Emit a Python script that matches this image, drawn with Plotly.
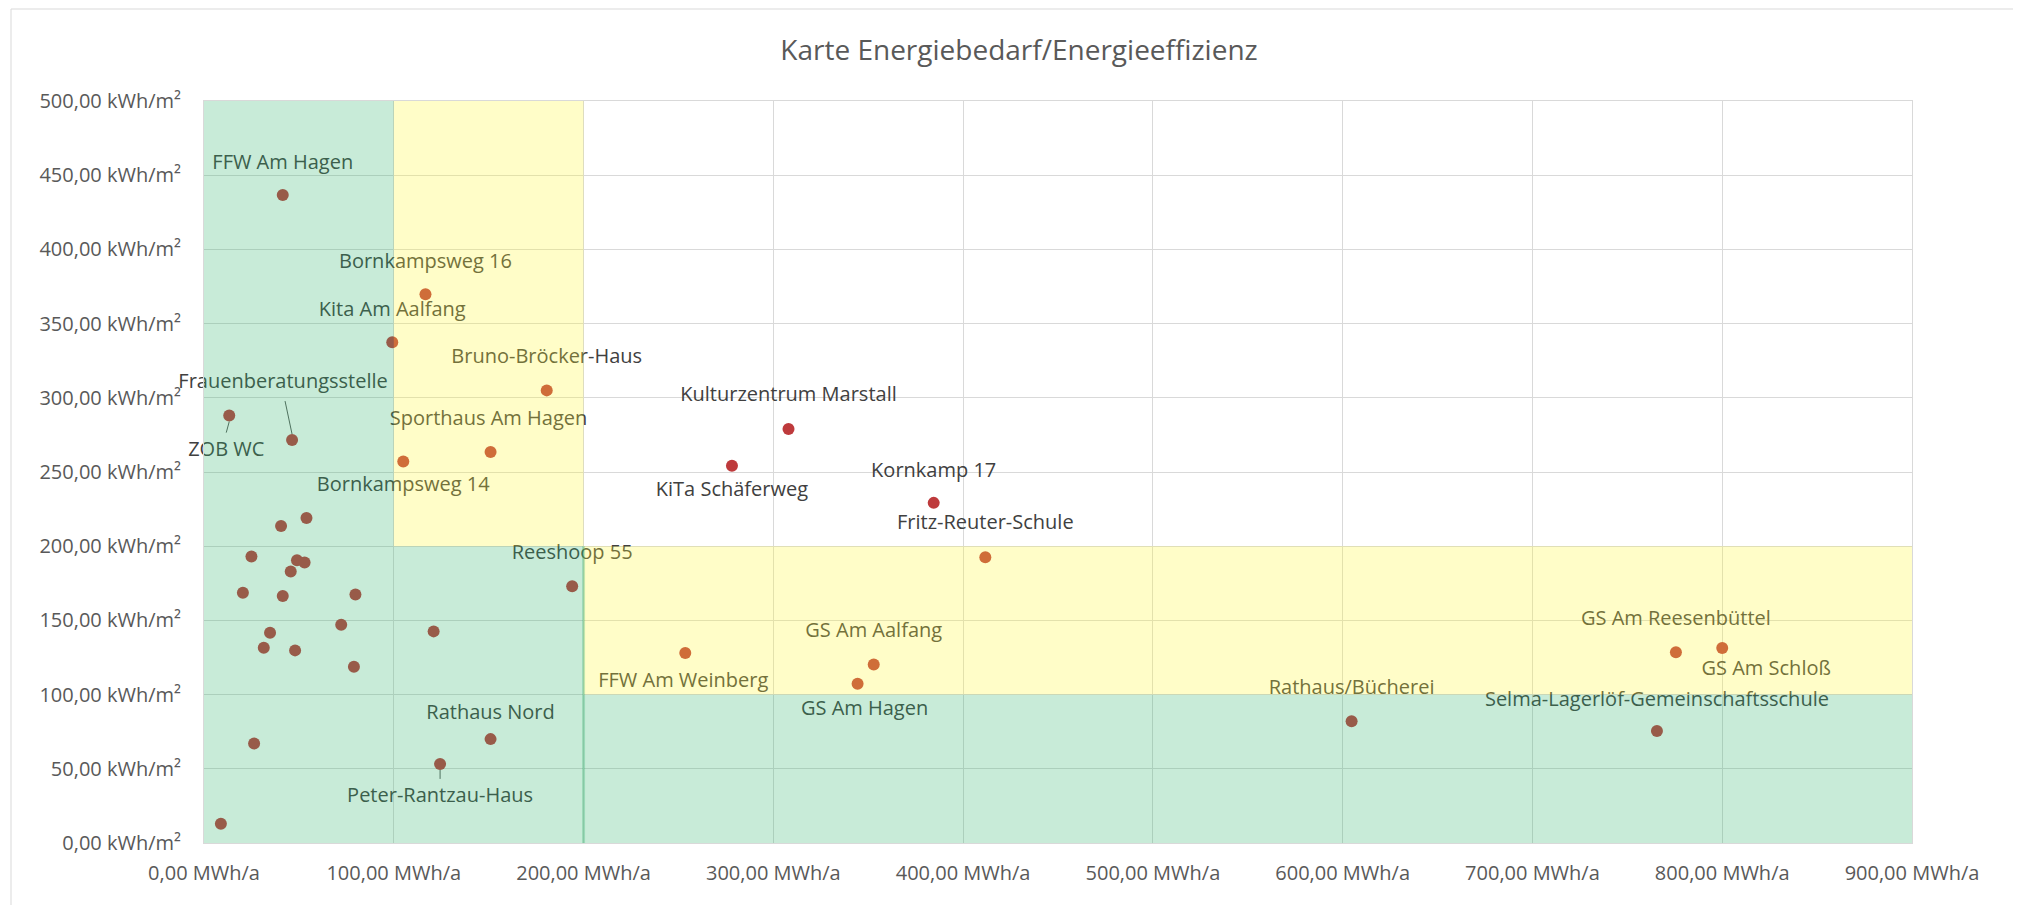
import plotly.graph_objects as go

# Gebaeude mit Beschriftung: (Name, Energiebedarf MWh/a, Energieeffizienz kWh/m²)
labelled_names = [
    'FFW Am Hagen', 'Bornkampsweg 16', 'Kita Am Aalfang', 'Bruno-Bröcker-Haus',
    'ZOB WC', 'Frauenberatungsstelle', 'Sporthaus Am Hagen', 'Bornkampsweg 14',
    'Kulturzentrum Marstall', 'KiTa Schäferweg', 'Kornkamp 17', 'Fritz-Reuter-Schule',
    'Reeshoop 55', 'FFW Am Weinberg', 'GS Am Aalfang', 'GS Am Hagen',
    'Rathaus/Bücherei', 'GS Am Reesenbüttel', 'GS Am Schloß',
    'Selma-Lagerlöf-Gemeinschaftsschule', 'Rathaus Nord', 'Peter-Rantzau-Haus',
]
labelled_mwh = [41.5, 116.7, 99.2, 180.6, 13.3, 46.4, 151.0, 105.0,
                308.0, 278.2, 384.5, 411.7, 194.0, 253.6, 352.9, 344.4,
                604.7, 775.6, 800.0, 765.6, 151.0, 124.4]
labelled_kwh = [436.6, 369.8, 337.4, 305.0, 288.0, 271.5, 263.5, 257.0,
                279.0, 254.2, 229.2, 192.6, 173.0, 128.0, 120.3, 107.3,
                82.0, 128.5, 131.4, 75.5, 70.0, 53.3]

# Gebaeude ohne Beschriftung
other_mwh = [54.0, 40.6, 25.0, 49.0, 53.0, 45.7, 20.5, 41.5, 79.8, 72.3,
             34.8, 121.0, 31.5, 48.0, 79.0, 26.4, 8.9]
other_kwh = [219.0, 213.6, 193.0, 190.5, 189.0, 183.0, 168.7, 166.4, 167.5, 147.0,
             141.7, 142.6, 131.5, 129.8, 118.7, 67.0, 13.0]

# Grenzwerte der Bewertungszonen
mwh_limits = [100, 200]
kwh_limits = [100, 200]
x_max, y_max = 900, 500

# Figure geometry (pixels); page body has an 8px margin
PAGE = 8
W, H = 2021 - PAGE, 905 - PAGE
ML, MR, MT, MB = 204 - PAGE, 109, 101 - PAGE, 62
PW, PH = W - ML - MR, H - MT - MB
px_x = PW / x_max
px_y = PH / y_max

# label offsets in pixels from the point (dx right, dy down)
label_offset = {
    'FFW Am Hagen': (0, -31), 'Bornkampsweg 16': (0, -31), 'Kita Am Aalfang': (0, -31),
    'Bruno-Bröcker-Haus': (0, -32), 'ZOB WC': (-3, 35), 'Frauenberatungsstelle': (-9, -57),
    'Sporthaus Am Hagen': (-2, -32), 'Bornkampsweg 14': (0, 24),
    'Kulturzentrum Marstall': (0, -33), 'KiTa Schäferweg': (0, 25), 'Kornkamp 17': (0, -31),
    'Fritz-Reuter-Schule': (0, -33), 'Reeshoop 55': (0, -32), 'FFW Am Weinberg': (-2, 29),
    'GS Am Aalfang': (0, -32), 'GS Am Hagen': (7, 26), 'Rathaus/Bücherei': (0, -32),
    'GS Am Reesenbüttel': (0, -32), 'GS Am Schloß': (44, 22),
    'Selma-Lagerlöf-Gemeinschaftsschule': (0, -30), 'Rathaus Nord': (0, -25),
    'Peter-Rantzau-Haus': (0, 33),
}
# leader lines (start, end) in pixel offsets
leaders = {
    'ZOB WC': ((0, 6), (-3, 17)),
    'Frauenberatungsstelle': ((0, -6), (-7, -39)),
    'Peter-Rantzau-Haus': ((0, 6), (0, 15)),
}

FONT = 'Open Sans'
RED = '#BE3A3C'

all_x = labelled_mwh + other_mwh
all_y = labelled_kwh + other_kwh

fig = go.Figure()

# leader lines
lx, ly = [], []
for name, (s, e) in leaders.items():
    i = labelled_names.index(name)
    x0, y0 = labelled_mwh[i], labelled_kwh[i]
    lx += [x0 + s[0] / px_x, x0 + e[0] / px_x, None]
    ly += [y0 - s[1] / px_y, y0 - e[1] / px_y, None]
fig.add_trace(go.Scatter(x=lx, y=ly, mode='lines', line=dict(color='#595959', width=1),
                         hoverinfo='skip', cliponaxis=False))

fig.add_trace(go.Scatter(x=all_x, y=all_y, mode='markers',
                         marker=dict(size=12, color=RED),
                         hovertemplate='%{x:.2f} MWh/a<br>%{y:.2f} kWh/m²<extra></extra>'))

tx = [x + label_offset[n][0] / px_x for n, x in zip(labelled_names, labelled_mwh)]
ty = [y - label_offset[n][1] / px_y for n, y in zip(labelled_names, labelled_kwh)]
fig.add_trace(go.Scatter(x=tx, y=ty, mode='text', text=labelled_names,
                         textposition='middle center', cliponaxis=False,
                         textfont=dict(family=FONT, size=20, color='#404040'),
                         hoverinfo='skip'))

# transparent zones drawn above the data (tints points and labels like in Excel)
green, yellow = '#34B56F', '#FFF834'
zones = [
    (0, 0, mwh_limits[0], y_max, green),
    (mwh_limits[0], 0, mwh_limits[1], kwh_limits[1], green),
    (mwh_limits[1], 0, x_max, kwh_limits[0], green),
    (mwh_limits[0], kwh_limits[1], mwh_limits[1], y_max, yellow),
    (mwh_limits[1], kwh_limits[0], x_max, kwh_limits[1], yellow),
]
for x0, y0, x1, y1, c in zones:
    fig.add_shape(type='rect', x0=x0, y0=y0, x1=x1, y1=y1, xref='x', yref='y',
                  fillcolor=c, opacity=0.27, line_width=0, layer='above')
fig.add_shape(type='line', x0=mwh_limits[1], x1=mwh_limits[1], y0=0, y1=kwh_limits[1],
              xref='x', yref='y', line=dict(color=green, width=3), opacity=0.3, layer='above')

# chart border (bottom edge lies below the visible page)
fig.add_shape(type='rect', xref='paper', yref='paper',
              x0=(11 - PAGE - ML) / PW, x1=(2015 - PAGE - ML) / PW,
              y0=(H - MB - (912 - PAGE)) / PH, y1=(H - MB - 1) / PH,
              line=dict(color='#D9D9D9', width=1), fillcolor='rgba(0,0,0,0)', layer='below')

axis_style = dict(showgrid=True, gridcolor='#D9D9D9', gridwidth=1, zeroline=False,
                  showline=True, linecolor='#D9D9D9', mirror=True, ticks='',
                  tickfont=dict(family=FONT, size=20, color='#595959'),
                  tickformat='.2f')

fig.update_xaxes(range=[0, x_max], dtick=100, ticksuffix=' MWh/a',
                 ticklabelstandoff=12, **axis_style)
fig.update_yaxes(range=[0, y_max], dtick=50, ticksuffix=' kWh/m²',
                 ticklabelstandoff=18, **axis_style)

fig.update_layout(
    title=dict(text='Karte Energiebedarf/Energieeffizienz', x=(1019 - PAGE) / W,
               y=1 - (50 - PAGE) / H, xanchor='center', yanchor='middle',
               font=dict(family=FONT, size=28, color='#595959')),
    separators=',.',
    width=W, height=H,
    margin=dict(l=ML, r=MR, t=MT, b=MB, autoexpand=False),
    plot_bgcolor='white', paper_bgcolor='white',
    showlegend=False,
    font=dict(family=FONT),
)

fig.write_html("out.html")
